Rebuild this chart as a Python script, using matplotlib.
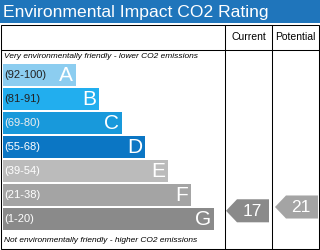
import matplotlib
matplotlib.use("Agg")
import matplotlib.pyplot as plt
from matplotlib.patches import Rectangle, Polygon

# Band data
bands = ["A", "B", "C", "D", "E", "F", "G"]
ranges = ["(92-100)", "(81-91)", "(69-80)", "(55-68)", "(39-54)", "(21-38)", "(1-20)"]
range_lo = [92, 81, 69, 55, 39, 21, 1]
range_hi = [100, 91, 80, 68, 54, 38, 20]
band_colors = ["#8ccdf0", "#22aeee", "#1899db", "#0b76c4", "#bbbbbb", "#a4a4a4", "#8a8a8a"]
label_colors = ["#222222", "#222222", "#eeeeee", "white", "white", "white", "white"]

current_score = 17
potential_score = 21

TITLE = "Environmental Impact CO2 Rating"
TOP_NOTE = "Very environmentally friendly - lower CO2 emissions"
BOTTOM_NOTE = "Not environmentally friendly - higher CO2 emissions"

W, H = 320, 250
FONT = "Liberation Sans"
LW = 0.75


def score_row(score):
    """Continuous row position for a score (row units, 0 = top band)."""
    for i, (lo, hi) in enumerate(zip(range_lo, range_hi)):
        if lo <= score <= hi:
            return i + 0.5 - (score - lo) / (hi - lo)
    return len(bands) - 0.5


fig = plt.figure(figsize=(W / 100, H / 100), dpi=100)

# Frame axes in pixel units
frame = fig.add_axes([0, 0, 1, 1])
frame.set_xlim(0, W)
frame.set_ylim(H, 0)
frame.axis("off")

frame.add_patch(Rectangle((0, 0), W, 23, color="#1f75bb", lw=0))
frame.text(3, 12, TITLE, color="white", fontsize=12.6, family=FONT,
           ha="left", va="center")

frame.add_patch(Rectangle((1, 24.5), 317.5, 224, fill=False, ec="black", lw=LW))
frame.plot([1, 318.5], [50, 50], color="black", lw=LW)
for x in (225, 272):
    frame.plot([x, x], [24.5, 248.5], color="black", lw=LW)

frame.text(248.5, 37, "Current", fontsize=7.5, family=FONT, ha="center", va="center")
frame.text(295.5, 37, "Potential", fontsize=7.5, family=FONT, ha="center", va="center")
frame.text(4, 57, TOP_NOTE, fontsize=6, family=FONT, style="italic",
           ha="left", va="center")
frame.text(4, 240, BOTTOM_NOTE, fontsize=6, family=FONT, style="italic",
           ha="left", va="center")

# Bars axes: x in pixels, y in band rows
ax = fig.add_axes([0, (H - 231) / H, 1, 168 / H])
ax.set_xlim(0, W)
ax.set_ylim(len(bands) - 0.5, -0.5)
ax.axis("off")

widths = [73 + 23 * i for i in range(len(bands))]
ax.barh(range(len(bands)), widths, left=3, height=22 / 24,
        color=band_colors, lw=0)

for i, (band, rng) in enumerate(zip(bands, ranges)):
    ax.text(4, i, rng, color=label_colors[i], fontsize=8, family=FONT,
            ha="left", va="center")
    ax.text(3 + widths[i] - 3, i + 0.03, band, color="white", fontsize=15,
            family=FONT, ha="right", va="center")


def draw_arrow(score, x0, x1):
    y = score_row(score)
    idx = next(i for i, (lo, hi) in enumerate(zip(range_lo, range_hi)) if lo <= score <= hi)
    half = 0.48
    tip = 11
    pts = [(x0, y), (x0 + tip, y - half), (x1, y - half), (x1, y + half), (x0 + tip, y + half)]
    ax.add_patch(Polygon(pts, closed=True, color=band_colors[idx], lw=0))
    ax.text((x0 + tip + x1) / 2 - 1, y + 0.03, str(score), color="white",
            fontsize=12.5, family=FONT, ha="center", va="center")


draw_arrow(current_score, 226, 269)
draw_arrow(potential_score, 275, 318)

fig.savefig("out.png", dpi=100)
